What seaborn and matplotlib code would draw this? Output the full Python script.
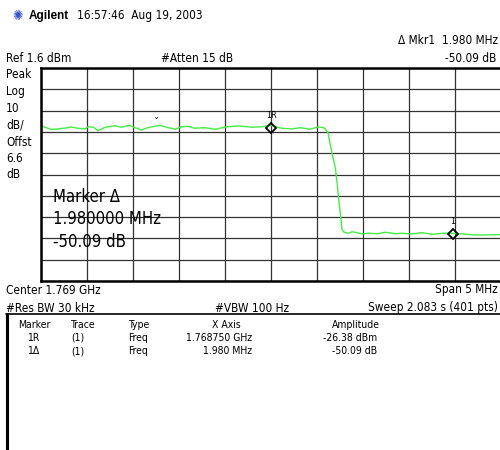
"""
Spectrum analyzer screen capture (Agilent) redrawn with seaborn.
Band edge of a filter: flat passband, steep drop, delta marker on the floor.
"""

import matplotlib
matplotlib.use("Agg")
import matplotlib.pyplot as plt
from matplotlib.lines import Line2D
import pandas as pd
import seaborn as sns

sns.set_style("white")
plt.rcParams["font.family"] = ["DejaVu Sans"]
plt.rcParams["font.stretch"] = "condensed"
plt.rcParams["text.color"] = "black"

# instrument settings
REF_DBM = 1.6
DB_PER_DIV = 10
F_START = 1766.25   # MHz
F_STOP = 1771.25

# trace (MHz, dBm)
freq_mhz = [1766.25, 1766.29, 1766.36, 1766.43, 1766.51, 1766.58, 1766.65, 1766.73,
            1766.76, 1766.82, 1766.87, 1766.95, 1767.05, 1767.12, 1767.21, 1767.27,
            1767.34, 1767.41, 1767.54, 1767.63, 1767.71, 1767.77, 1767.85, 1767.92,
            1768.03, 1768.14, 1768.25, 1768.39, 1768.54, 1768.65, 1768.74, 1768.87,
            1768.98, 1769.07, 1769.17, 1769.26, 1769.32, 1769.34, 1769.37, 1769.39,
            1769.42, 1769.45, 1769.47, 1769.49, 1769.51, 1769.52, 1769.54, 1769.59,
            1769.63, 1769.66, 1769.74, 1769.80, 1769.91, 1769.99, 1770.10, 1770.17,
            1770.28, 1770.39, 1770.50, 1770.61, 1770.72, 1770.83, 1770.93, 1771.04,
            1771.15, 1771.25]
level_dbm = [-25.5, -26.2, -27.2, -27.0, -26.6, -26.1, -26.7, -27.0,
             -26.0, -26.2, -27.8, -26.2, -25.5, -26.2, -25.3, -26.4,
             -27.5, -26.4, -25.3, -26.4, -27.2, -26.0, -25.8, -26.7,
             -26.4, -27.2, -26.1, -25.6, -26.2, -26.0, -25.3, -26.7,
             -27.0, -26.4, -27.2, -26.1, -26.4, -27.0, -28.9, -33.6,
             -39.7, -45.4, -53.3, -61.8, -68.8, -74.0, -75.4, -76.0,
             -75.3, -75.5, -76.3, -76.0, -76.2, -75.5, -76.2, -76.0,
             -76.3, -75.7, -76.5, -76.0, -76.0, -76.3, -76.7, -76.8,
             -76.7, -76.6]

# markers
marker_freq = [1768.75, 1770.73]
marker_level = [-26.38, -26.38 - 50.09]
marker_tags = ["1R", "1"]

# marker table
table_header = ["Marker", "Trace", "Type", "X Axis", "Amplitude"]
table_rows = [["1R", "(1)", "Freq", "1.768750 GHz", "-26.38 dBm"],
              ["1Δ", "(1)", "Freq", "1.980 MHz", "-50.09 dB"]]

W, H = 500, 450
fig = plt.figure(figsize=(W / 100, H / 100), dpi=100)
fig.patch.set_facecolor("white")


def px(x, y):
    return x / W, 1 - y / H


def ftext(x, y, s, size=8.5, **kw):
    fig.text(*px(x, y), s, fontsize=size, va="center", **kw)


# graticule area
x0, y0, x1, y1 = 41, 68, 501, 281
ax = fig.add_axes([x0 / W, 1 - y1 / H, (x1 - x0) / W, (y1 - y0) / H])

df = pd.DataFrame({"freq": freq_mhz, "level": level_dbm})
sns.lineplot(data=df, x="freq", y="level", color="#44ee44", lw=1.0, ax=ax)

ax.set_xlim(F_START, F_STOP)
ax.set_ylim(REF_DBM - 10 * DB_PER_DIV, REF_DBM)
xstep = (F_STOP - F_START) / 10
ax.set_xticks([F_START + i * xstep for i in range(11)])
ax.set_yticks([REF_DBM - i * DB_PER_DIV for i in range(11)])
ax.grid(True, color="#333333", lw=0.9)
ax.tick_params(length=0, labelbottom=False, labelleft=False)
ax.set_xlabel("")
ax.set_ylabel("")
for s in ax.spines.values():
    s.set_color("black")
    s.set_linewidth(1.8)

# marker diamonds + tags
ax.plot(marker_freq, marker_level, ls="none", marker="D", ms=5.5,
        mfc="none", mec="black", mew=1.3)
for f, l, t in zip(marker_freq, marker_level, marker_tags):
    ax.annotate(t, (f, l), xytext=(0, 9), textcoords="offset points",
                ha="center", va="center", fontsize=6.5)
ax.annotate("ˇ", (1767.49, -24.0), ha="center", va="center", fontsize=8)

# big marker readout inside the graticule
ftext(53, 197, "Marker Δ", size=12)
ftext(53, 219, "1.980000 MHz", size=12)
ftext(53, 242, "-50.09 dB", size=12)

# header
ftext(12, 16, "✺", size=10, color="#3355cc", ha="left")
ftext(29, 16, "Agilent", size=8.5, weight="bold", family="Liberation Sans")
ftext(77, 16, "16:57:46  Aug 19, 2003")
ftext(6, 58, "Ref 1.6 dBm")
ftext(161, 58, "#Atten 15 dB")
ftext(498, 41, "Δ Mkr1  1.980 MHz", ha="right")
ftext(496, 58, "-50.09 dB", ha="right")

# left scale labels
for yy, s in zip([75, 92, 109, 125, 142, 158, 174],
                 ["Peak", "Log", "10", "dB/", "Offst", "6.6", "dB"]):
    ftext(6, yy, s)

# footer settings
ftext(6, 290, "Center 1.769 GHz")
ftext(498, 290, "Span 5 MHz", ha="right")
ftext(6, 308, "#Res BW 30 kHz")
ftext(215, 308, "#VBW 100 Hz")
ftext(498, 308, "Sweep 2.083 s (401 pts)", ha="right")

# marker table box
fig.add_artist(Line2D([6 / W, 1.0], [1 - 314 / H] * 2, color="black", lw=1.2,
                      transform=fig.transFigure))
fig.add_artist(Line2D([7 / W] * 2, [1 - 314 / H, 0], color="black", lw=2.2,
                      transform=fig.transFigure))

col_x = [34, 82, 128, 226, 356]
col_ha = ["center", "center", "left", "center", "center"]
for x, s, ha in zip(col_x, table_header, col_ha):
    ftext(x, 325, s, size=7.5, ha=ha)

row_x = [33, 78, 128, 252, 377]
row_ha = ["center", "center", "left", "right", "right"]
for yy, row in zip([338, 351], table_rows):
    for x, s, ha in zip(row_x, row, row_ha):
        ftext(x, yy, s, size=7.5, ha=ha)

fig.savefig("out.png", dpi=100, facecolor="white")
